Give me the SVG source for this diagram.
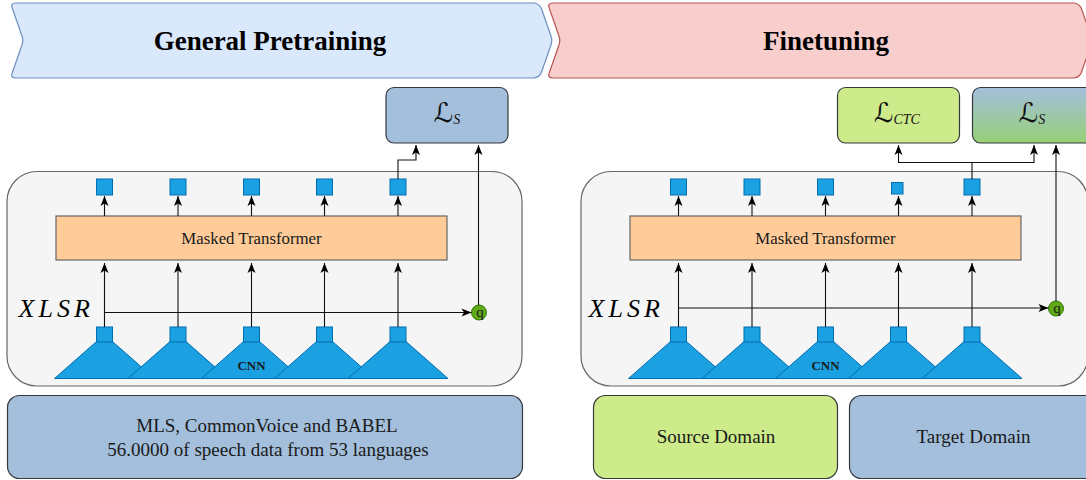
<svg xmlns="http://www.w3.org/2000/svg" width="1086" height="480" viewBox="0 0 1086 480">
<defs>
<marker id="arr" markerUnits="userSpaceOnUse" markerWidth="11" markerHeight="9" refX="10" refY="4" orient="auto" overflow="visible">
<path d="M0,0 L10,4 L0,8 L2.5,4 Z" fill="#000"/>
</marker>
<linearGradient id="gradS" x1="0" y1="0" x2="0" y2="1">
<stop offset="0" stop-color="#a3bfdc"/>
<stop offset="1" stop-color="#97d077"/>
</linearGradient>
</defs>
<style>
.serif{font-family:"Liberation Serif","Times New Roman",serif;fill:#1a1a1a}
.title{font-family:"Liberation Serif","Times New Roman",serif;font-weight:bold;font-size:27px;fill:#000}
.blue{fill:#1ba1e2;stroke:#006eaf;stroke-width:1}
.cont{fill:#f5f5f5;stroke:#666;stroke-width:1.2}
.trans{fill:#ffcc99;stroke:#666;stroke-width:1.2}
.box{stroke:#36393d;stroke-width:1.2}
.ln{fill:none;stroke:#111;stroke-width:1.1}
.q{fill:#60a917;stroke:#2d7600;stroke-width:1}
.scr{font-family:"DejaVu Serif","DejaVu Sans",serif;font-style:italic;font-size:27px}
.sub{font-family:"Liberation Serif",serif;font-style:italic;font-size:14px}
.xlsr{font-family:"Liberation Serif",serif;font-style:italic;font-size:26px;fill:#000}
</style>

<g id="banner-pretraining">
<path d="M16,3 H533 Q539,3 541.4,8.5 L550.6,35 Q553,40.5 550.6,46 L541.4,72.5 Q539,78 533,78 H16 Q10,78 12.4,72.5 L21.6,46 Q24,40.5 21.6,35 L12.4,8.5 Q10,3 16,3 Z" fill="#dae8fc" stroke="#6c8ebf" stroke-width="1.2"/>
<text class="title" x="270" y="50" text-anchor="middle">General Pretraining</text>
</g>
<g id="banner-finetuning">
<path d="M553,3 H1073 Q1079,3 1081.4,8.5 L1090.6,35 Q1093,40.5 1090.6,46 L1081.4,72.5 Q1079,78 1073,78 H553 Q547,78 549.4,72.5 L558.6,46 Q561,40.5 558.6,35 L549.4,8.5 Q547,3 553,3 Z" fill="#f8cecc" stroke="#b85450" stroke-width="1.2"/>
<text class="title" x="826" y="50" text-anchor="middle">Finetuning</text>
</g>

<g id="xlsr-pretraining">
<rect class="cont" x="7" y="171.5" width="515" height="214.5" rx="30"/>
<text class="xlsr" x="18.5" y="317" textLength="71.5" lengthAdjust="spacing">XLSR</text>
</g>
<g id="xlsr-finetuning">
<rect class="cont" x="581" y="171.5" width="507" height="214.5" rx="30"/>
<text class="xlsr" x="588.5" y="317" textLength="71.5" lengthAdjust="spacing">XLSR</text>
</g>

<g id="transformer-left">
<rect class="trans" x="56" y="216" width="391" height="44"/>
<text class="serif" x="251.5" y="244" font-size="16.8" text-anchor="middle">Masked Transformer</text>
</g>
<g id="transformer-right">
<rect class="trans" x="630" y="216" width="391" height="44"/>
<text class="serif" x="825.5" y="244" font-size="16.8" text-anchor="middle">Masked Transformer</text>
</g>

<g id="cnn-left">
<path class="blue" d="M104.5,334.5 L154.5,378.5 L54.5,378.5 Z"/>
<path class="blue" d="M178,334.5 L228,378.5 L128,378.5 Z"/>
<path class="blue" d="M251.5,334.5 L301.5,378.5 L201.5,378.5 Z"/>
<path class="blue" d="M324.5,334.5 L374.5,378.5 L274.5,378.5 Z"/>
<path class="blue" d="M398,334.5 L448,378.5 L348,378.5 Z"/>
<rect class="blue" x="96.5" y="327" width="16" height="15"/>
<rect class="blue" x="170" y="327" width="16" height="15"/>
<rect class="blue" x="243.5" y="327" width="16" height="15"/>
<rect class="blue" x="316.5" y="327" width="16" height="15"/>
<rect class="blue" x="390" y="327" width="16" height="15"/>
<text class="serif" x="251.5" y="369.5" font-size="13" font-weight="bold" text-anchor="middle" fill="#111">CNN</text>
</g>
<g id="cnn-right">
<path class="blue" d="M678.5,334.5 L728.5,378.5 L628.5,378.5 Z"/>
<path class="blue" d="M752,334.5 L802,378.5 L702,378.5 Z"/>
<path class="blue" d="M825.5,334.5 L875.5,378.5 L775.5,378.5 Z"/>
<path class="blue" d="M898.5,334.5 L948.5,378.5 L848.5,378.5 Z"/>
<path class="blue" d="M972,334.5 L1022,378.5 L922,378.5 Z"/>
<rect class="blue" x="670.5" y="327" width="16" height="15"/>
<rect class="blue" x="744" y="327" width="16" height="15"/>
<rect class="blue" x="817.5" y="327" width="16" height="15"/>
<rect class="blue" x="890.5" y="327" width="16" height="15"/>
<rect class="blue" x="964" y="327" width="16" height="15"/>
<text class="serif" x="825.5" y="369.5" font-size="13" font-weight="bold" text-anchor="middle" fill="#111">CNN</text>
</g>

<g id="outputs-left">
<rect class="blue" x="96.5" y="179" width="16" height="16"/>
<rect class="blue" x="170" y="179" width="16" height="16"/>
<rect class="blue" x="243.5" y="179" width="16" height="16"/>
<rect class="blue" x="316.5" y="179" width="16" height="16"/>
<rect class="blue" x="390" y="179" width="16" height="16"/>
</g>
<g id="outputs-right">
<rect class="blue" x="670.5" y="179" width="16" height="16"/>
<rect class="blue" x="744" y="179" width="16" height="16"/>
<rect class="blue" x="817.5" y="179" width="16" height="16"/>
<rect class="blue" x="891.5" y="182.5" width="11.5" height="11.5"/>
<rect class="blue" x="964" y="179" width="16" height="16"/>
</g>

<g id="q-left">
<circle class="q" cx="479" cy="312.5" r="7.5"/>
<text class="serif" x="480" y="317" font-size="15" text-anchor="middle" fill="#000">q</text>
</g>
<g id="q-right">
<circle class="q" cx="1056" cy="308.5" r="7.5"/>
<text class="serif" x="1057" y="313" font-size="15" text-anchor="middle" fill="#000">q</text>
</g>

<g id="loss-s-left">
<rect class="box" x="386" y="87.5" width="122" height="55.5" rx="8" fill="#a3bfdc"/>
<text x="447" y="122" text-anchor="middle" fill="#111"><tspan class="scr">ℒ</tspan><tspan class="sub" dy="2">S</tspan></text>
</g>
<g id="loss-ctc">
<rect class="box" x="837.5" y="87.5" width="122" height="55.5" rx="8" fill="#cdeb8b"/>
<text x="897" y="122" text-anchor="middle" fill="#111"><tspan class="scr">ℒ</tspan><tspan class="sub" dy="2">CTC</tspan></text>
</g>
<g id="loss-s-right">
<rect class="box" x="972.5" y="87.5" width="122" height="55.5" rx="8" fill="url(#gradS)"/>
<text x="1032" y="122" text-anchor="middle" fill="#111"><tspan class="scr">ℒ</tspan><tspan class="sub" dy="2">S</tspan></text>
</g>

<g id="data-pretraining">
<rect class="box" x="7.5" y="395.5" width="515" height="83" rx="12" fill="#a3bfdc"/>
<text class="serif" x="267" y="432" font-size="19" text-anchor="middle">MLS, CommonVoice and BABEL</text>
<text class="serif" x="268" y="456" font-size="19" text-anchor="middle">56.0000 of speech data from 53 languages</text>
</g>
<g id="source-domain">
<rect class="box" x="593.5" y="395.5" width="244" height="83" rx="12" fill="#cdeb8b"/>
<text class="serif" x="716" y="443" font-size="19" text-anchor="middle">Source Domain</text>
</g>
<g id="target-domain">
<rect class="box" x="849.5" y="395.5" width="248" height="83" rx="12" fill="#a3bfdc"/>
<text class="serif" x="973.5" y="443" font-size="19" text-anchor="middle">Target Domain</text>
</g>

<g id="connectors">
<path class="ln" marker-end="url(#arr)" d="M104.5,327 V263"/>
<path class="ln" marker-end="url(#arr)" d="M178,327 V263"/>
<path class="ln" marker-end="url(#arr)" d="M251.5,327 V263"/>
<path class="ln" marker-end="url(#arr)" d="M324.5,327 V263"/>
<path class="ln" marker-end="url(#arr)" d="M398,327 V263"/>
<path class="ln" marker-end="url(#arr)" d="M104.5,216 V196"/>
<path class="ln" marker-end="url(#arr)" d="M178,216 V196"/>
<path class="ln" marker-end="url(#arr)" d="M251.5,216 V196"/>
<path class="ln" marker-end="url(#arr)" d="M324.5,216 V196"/>
<path class="ln" marker-end="url(#arr)" d="M398,216 V196"/>
<path class="ln" marker-end="url(#arr)" d="M104.5,312.5 H471.5"/>
<path class="ln" marker-end="url(#arr)" d="M478.5,305 V145"/>
<path class="ln" marker-end="url(#arr)" d="M398,179 V160 H416 V145"/>

<path class="ln" marker-end="url(#arr)" d="M678.5,327 V263"/>
<path class="ln" marker-end="url(#arr)" d="M752,327 V263"/>
<path class="ln" marker-end="url(#arr)" d="M825.5,327 V263"/>
<path class="ln" marker-end="url(#arr)" d="M898.5,327 V263"/>
<path class="ln" marker-end="url(#arr)" d="M972,327 V263"/>
<path class="ln" marker-end="url(#arr)" d="M678.5,216 V196"/>
<path class="ln" marker-end="url(#arr)" d="M752,216 V196"/>
<path class="ln" marker-end="url(#arr)" d="M825.5,216 V196"/>
<path class="ln" marker-end="url(#arr)" d="M898.5,216 V196"/>
<path class="ln" marker-end="url(#arr)" d="M972,216 V196"/>
<path class="ln" marker-end="url(#arr)" d="M678.5,308 H1048.5"/>
<path class="ln" marker-end="url(#arr)" d="M1056,301 V145"/>
<path class="ln" marker-end="url(#arr)" d="M972,179 V162.5 H898.5 V145"/>
<path class="ln" marker-end="url(#arr)" d="M972,162.5 H1034 V145"/>
</g>
</svg>
